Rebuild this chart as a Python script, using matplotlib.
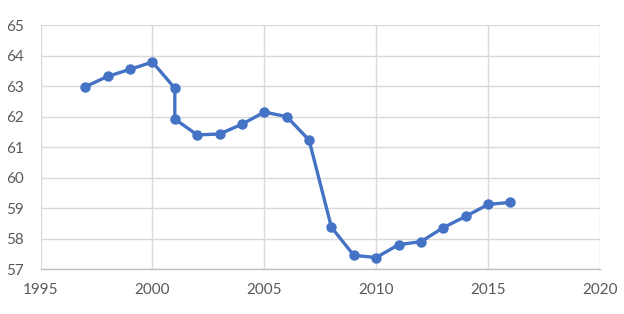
import matplotlib
matplotlib.use("Agg")
import matplotlib.pyplot as plt

years = [1997, 1998, 1999, 2000, 2001, 2001, 2002, 2003, 2004, 2005, 2006, 2007,
         2008, 2009, 2010, 2011, 2012, 2013, 2014, 2015, 2016]
values = [62.98, 63.32, 63.55, 63.79, 62.93, 61.92, 61.40, 61.43, 61.75, 62.15, 62.0, 61.23,
          58.37, 57.45, 57.38, 57.80, 57.90, 58.36, 58.73, 59.12, 59.19]
x_ticks = [1995, 2000, 2005, 2010, 2015, 2020]
y_ticks = [57, 58, 59, 60, 61, 62, 63, 64, 65]

fig = plt.figure(figsize=(6.24, 3.14), dpi=100)
ax = fig.add_axes([0.065, 0.143, 0.8965, 0.777])
ax.plot(years, values, color="#4472C4", linewidth=2.4, marker="o", markersize=6.5,
        zorder=3)
ax.set_xlim(1995, 2020)
ax.set_ylim(57, 65)
ax.set_xticks(x_ticks)
ax.set_yticks(y_ticks)
ax.grid(True, color="#D9D9D9", linewidth=1.0)
ax.set_axisbelow(True)
for s in ["top", "right", "left"]:
    ax.spines[s].set_visible(False)
ax.spines["bottom"].set_color("#BFBFBF")
ax.spines["bottom"].set_linewidth(1.0)
ax.tick_params(length=0, labelsize=11, labelcolor="#595959")
ax.tick_params(axis="x", pad=10)
ax.tick_params(axis="y", pad=12)
for lab in ax.get_xticklabels() + ax.get_yticklabels():
    lab.set_family(["Lato", "DejaVu Sans"])
fig.savefig("out.png", dpi=100)
